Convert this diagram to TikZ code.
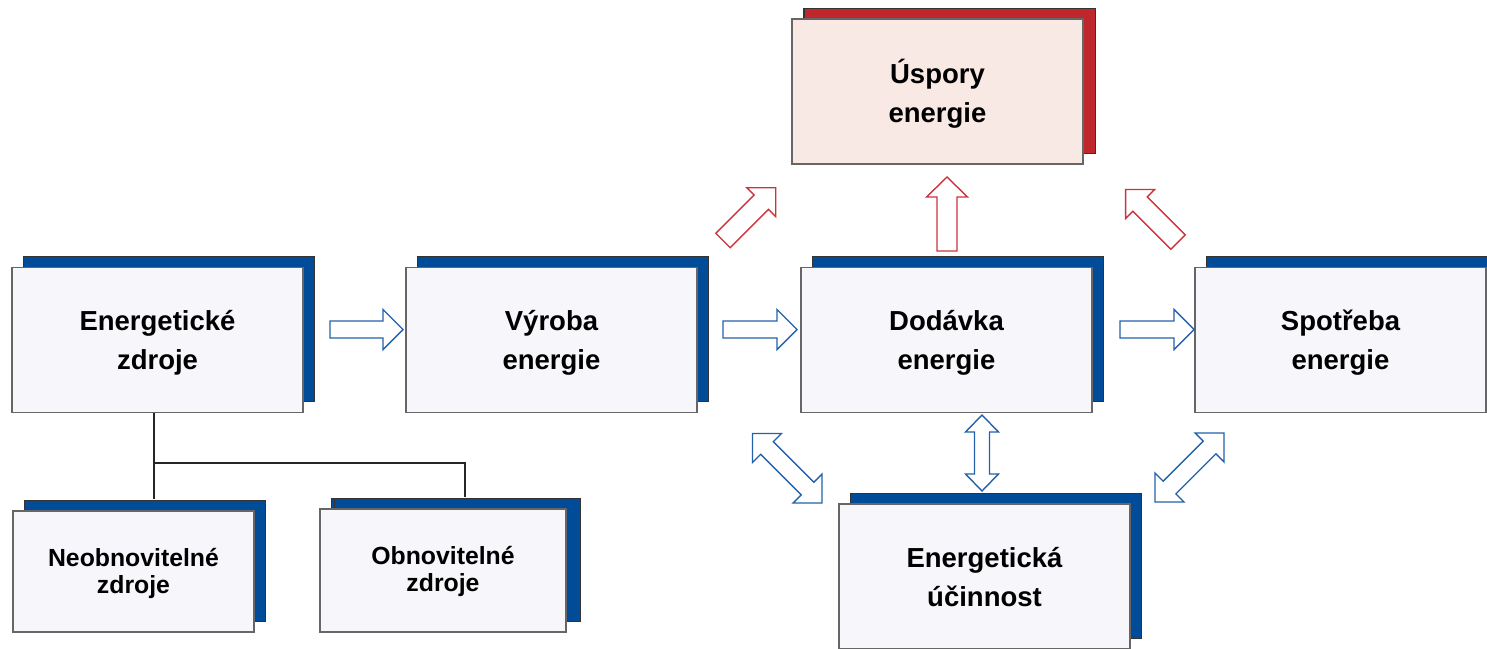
\documentclass[tikz,border=0pt]{standalone}
\usepackage{fontspec}
\setmainfont{Liberation Sans}
\usetikzlibrary{shadows}
\definecolor{blueback}{RGB}{0,76,153}
\definecolor{redback}{RGB}{192,39,45}
\definecolor{frontfill}{RGB}{247,247,251}
\definecolor{pinkfill}{RGB}{249,233,229}
\definecolor{bluearr}{RGB}{35,97,170}
\definecolor{redarr}{RGB}{203,52,60}
\begin{document}
\begin{tikzpicture}[x=1pt,y=-1pt,
  bigtext/.style={font=\fontsize{27.5}{39}\selectfont\bfseries, align=center},
  smalltext/.style={font=\fontsize{24.8}{27}\selectfont\bfseries, align=center},
  card/.style={rectangle, draw=black!60, line width=1.2pt, fill=frontfill, inner sep=0pt,
    minimum width=291pt, minimum height=145pt,
    copy shadow={shadow xshift=11pt, shadow yshift=11pt, fill=blueback, draw=black!80, line width=1pt}},
  redcard/.style={card, fill=pinkfill,
    copy shadow={shadow xshift=12pt, shadow yshift=11pt, fill=redback, draw=black!80, line width=1pt}},
  barr/.style={draw=bluearr, fill=white, line width=1.4pt, line join=miter},
  rarr/.style={draw=redarr, fill=white, line width=1.4pt, line join=miter},
  conn/.style={draw=black!85, line width=1.3pt},
  pics/sarr/.style args={#1/#2/#3/#4}{code={
    \path[pic actions] (0,-#4) -- (#1-#2,-#4) -- (#1-#2,-#3) -- (#1,0) -- (#1-#2,#3) -- (#1-#2,#4) -- (0,#4) -- cycle;}},
  pics/darr/.style args={#1/#2/#3/#4}{code={
    \path[pic actions] (0,0) -- (#2,#3) -- (#2,#4) -- (#1-#2,#4) -- (#1-#2,#3) -- (#1,0)
      -- (#1-#2,-#3) -- (#1-#2,-#4) -- (#2,-#4) -- (#2,-#3) -- cycle;}}
]
\useasboundingbox (0,0) rectangle (1487,648);

% main cards
\node[card] (ez) at (157.5,340) {};
\node[card] (vy) at (551.5,340) {};
\node[card] (do) at (946.5,340) {};
\node[card] (sp) at (1340.5,340) {};
\node[redcard] (us) at (937.5,91.5) {};
\node[card] (ef) at (984.5,576.5) {};
\node[bigtext] (ez-t) at ([yshift=-2.5pt]ez.center) {Energetické\\zdroje};
\node[bigtext] (vy-t) at ([yshift=-2.5pt]vy.center) {Výroba\\energie};
\node[bigtext] (do-t) at ([yshift=-2.5pt]do.center) {Dodávka\\energie};
\node[bigtext] (sp-t) at ([yshift=-2.5pt]sp.center) {Spotřeba\\energie};
\node[bigtext] (us-t) at ([yshift=-2pt]us.center) {Úspory\\energie};
\node[bigtext] (ef-t) at ([yshift=-0.5pt]ef.center) {Energetická\\účinnost};

% sub cards
\node[card, minimum width=241pt, minimum height=121pt,
  copy shadow={shadow xshift=11.5pt, shadow yshift=11pt, fill=blueback, draw=black!80, line width=1pt}]
  (ne) at (133.5,571.5) {};
\node[card, minimum width=246pt, minimum height=123pt,
  copy shadow={shadow xshift=14pt, shadow yshift=11pt, fill=blueback, draw=black!80, line width=1pt}]
  (ob) at (443,570.5) {};
\node[smalltext] (ne-t) at ([yshift=-2pt]ne.center) {Neobnovitelné\\zdroje};
\node[smalltext] (ob-t) at ([yshift=-1pt]ob.center) {Obnovitelné\\zdroje};

% tree connector
\coordinate (j1) at (154,463);
\coordinate (j2) at (465,463);
\draw[conn] (ez.south -| j1) -- (j1) -- (j2) -- ([yshift=11pt]ob.north -| j2);
\draw[conn] (j1) -- ([yshift=11pt]ne.north -| j1);

% blue flow arrows
\pic[barr] at (330,329.5) {sarr=73/20/20/8.5};
\pic[barr] at (723,329.5) {sarr=74/20/20/8.5};
\pic[barr] at (1120,329.5) {sarr=74/20/20/8.5};

% red arrows to savings
\pic[rarr, rotate=45] at (723,240.5) {sarr=74.6/20.5/20.5/10.2};
\pic[rarr, rotate=90] at (947,251) {sarr=74/20/20.5/10};
\pic[rarr, rotate=135] at (1178,242) {sarr=74.2/20.5/20.5/10.2};

% blue double arrows to efficiency
\pic[barr, rotate=135] at (822,503) {darr=98.3/20.5/20.5/9};
\pic[barr, rotate=90] at (982,491) {darr=76/17/16.5/7.5};
\pic[barr, rotate=45] at (1155,502) {darr=97.6/20.5/20.5/9};
\end{tikzpicture}
\end{document}
